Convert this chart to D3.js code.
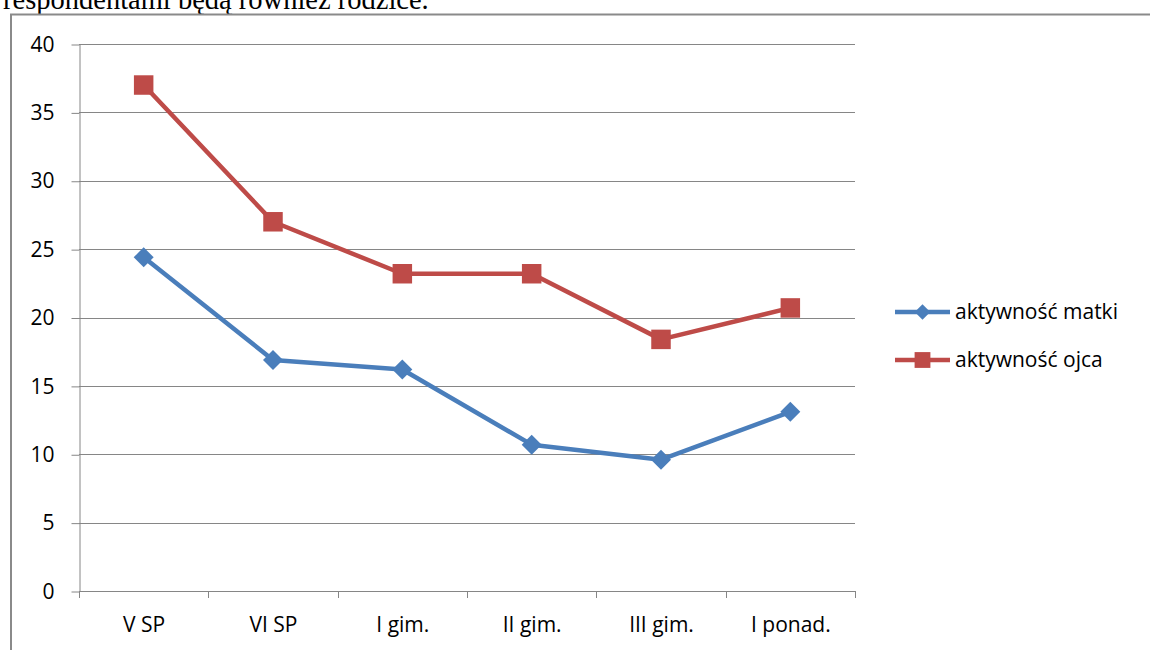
<!DOCTYPE html>
<html>
<head>
<meta charset="utf-8">
<script src="https://cdn.jsdelivr.net/npm/d3@7"></script>
<style>
  body { margin: 0; background: #fff; }
  svg { display: block; }
</style>
</head>
<body>
<div id="chart"></div>
<script>
// data
var categories = ['V SP', 'VI SP', 'I gim.', 'II gim.', 'III gim.', 'I ponad.'];
var matki = [24.4, 16.9, 16.2, 10.7, 9.6, 13.1];
var ojca = [37.0, 27.0, 23.2, 23.2, 18.4, 20.7];
var seriesNames = ['aktywność matki', 'aktywność ojca'];
var yTicks = [0, 5, 10, 15, 20, 25, 30, 35, 40];

var width = 1150, height = 650;
var plot = { left: 79, right: 855, top: 44, bottom: 591 };
var font = '"Open Sans", Lato, sans-serif';
var blue = '#4a7ebb', red = '#be4b48';

var svg = d3.select('#chart').append('svg')
    .attr('width', width)
    .attr('height', height);

// clipped paragraph text above the chart
svg.append('text')
    .attr('x', 3)
    .attr('y', 9)
    .style('font-family', '"Liberation Serif", "Times New Roman", serif')
    .style('font-size', '28.5px')
    .attr('fill', '#000')
    .text('respondentami będą również rodzice.');

// chart frame
svg.append('rect')
    .attr('x', 11)
    .attr('y', 14.5)
    .attr('width', 1150)
    .attr('height', 700)
    .attr('fill', '#fff')
    .attr('stroke', '#8a8a8a')
    .attr('stroke-width', 2);

var x = d3.scaleBand()
    .domain(categories)
    .range([plot.left, plot.right]);

var y = d3.scaleLinear()
    .domain([0, 40])
    .range([plot.bottom, plot.top]);

// gridlines
svg.append('g')
    .selectAll('line')
    .data(yTicks.filter(d => d > 0))
    .enter()
    .append('line')
    .attr('x1', plot.left)
    .attr('x2', plot.right)
    .attr('y1', d => Math.round(y(d)) + 0.5)
    .attr('y2', d => Math.round(y(d)) + 0.5)
    .attr('stroke', '#868686');

// y axis
var yAxis = svg.append('g')
    .attr('transform', `translate(${plot.left + 0.5}, 0.5)`)
    .call(d3.axisLeft(y).tickValues(yTicks).tickSize(8).tickPadding(17).tickSizeOuter(0));
yAxis.select('.domain').attr('stroke', '#868686');
yAxis.selectAll('.tick line').attr('stroke', '#868686');
yAxis.selectAll('text')
    .style('font-family', font)
    .style('font-size', '21px')
    .attr('fill', '#000');

// x axis
var xAxis = svg.append('g')
    .attr('transform', `translate(0.5, ${plot.bottom + 0.5})`)
    .call(d3.axisBottom(x).tickSize(0).tickPadding(26));
xAxis.select('.domain').attr('stroke', '#868686').attr('d', `M${plot.left},0H${plot.right}`);
xAxis.selectAll('text')
    .style('font-family', font)
    .style('font-size', '21px')
    .attr('fill', '#000');

// category boundary ticks
svg.append('g')
    .selectAll('line')
    .data(categories.concat(['end']))
    .enter()
    .append('line')
    .attr('x1', (d, i) => Math.round(plot.left + i * x.step()) + 0.5)
    .attr('x2', (d, i) => Math.round(plot.left + i * x.step()) + 0.5)
    .attr('y1', plot.bottom)
    .attr('y2', plot.bottom + 7)
    .attr('stroke', '#868686');

var line = d3.line()
    .x((d, i) => x(categories[i]) + x.bandwidth() / 2)
    .y(d => y(d));

function drawSeries(values, color, symbol, size) {
    svg.append('path')
        .datum(values)
        .attr('d', line)
        .attr('fill', 'none')
        .attr('stroke', color)
        .attr('stroke-width', 4.5)
        .attr('stroke-linejoin', 'round');
    svg.append('g')
        .selectAll('path')
        .data(values)
        .enter()
        .append('path')
        .attr('transform', (d, i) => `translate(${x(categories[i]) + x.bandwidth() / 2}, ${y(d)})`)
        .attr('d', d3.symbol().type(symbol).size(size))
        .attr('fill', color);
}

var diamond = {
    draw: function(ctx, size) {
        var r = Math.sqrt(size) / 2;
        ctx.moveTo(0, -r); ctx.lineTo(r, 0); ctx.lineTo(0, r); ctx.lineTo(-r, 0); ctx.closePath();
    }
};

drawSeries(matki, blue, diamond, 400);
drawSeries(ojca, red, d3.symbolSquare, 380);

// legend
var legend = svg.append('g');
var legendItems = [
    { name: seriesNames[0], color: blue, symbol: diamond, size: 240 },
    { name: seriesNames[1], color: red, symbol: d3.symbolSquare, size: 250 }
];
legendItems.forEach(function(item, i) {
    var ly = 312 + i * 48;
    legend.append('line')
        .attr('x1', 895).attr('x2', 950)
        .attr('y1', ly).attr('y2', ly)
        .attr('stroke', item.color)
        .attr('stroke-width', 4.5);
    legend.append('path')
        .attr('transform', `translate(922.5, ${ly})`)
        .attr('d', d3.symbol().type(item.symbol).size(item.size))
        .attr('fill', item.color);
    legend.append('text')
        .attr('x', 955)
        .attr('y', ly + 7)
        .style('font-family', font)
        .style('font-size', '21px')
        .attr('fill', '#000')
        .text(item.name);
});
</script>
</body>
</html>
